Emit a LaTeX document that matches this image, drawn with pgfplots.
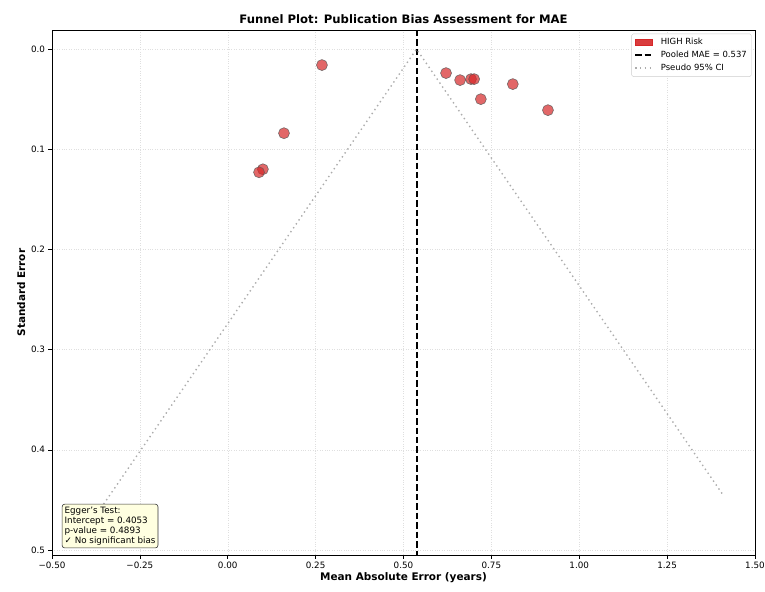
\documentclass[border=0pt]{standalone}
\usepackage{pgfplots}
\pgfplotsset{compat=1.18}
\usepackage{fontspec}
\setmainfont{DejaVu Sans}
\definecolor{hired}{RGB}{214,39,40}
\definecolor{boxfill}{RGB}{255,255,224}
\begin{document}
\begin{tikzpicture}
\path[use as bounding box] (0,0) rectangle (765bp,592bp);
\begin{axis}[
  at={(52bp,37bp)}, anchor=south west,
  scale only axis, width=703bp, height=525bp,
  xmin=-0.5, xmax=1.5, ymin=-0.019, ymax=0.505,
  y dir=reverse,
  xtick={-0.5,-0.25,0,0.25,0.5,0.75,1,1.25,1.5},
  xticklabels={−0.50,−0.25,0.00,0.25,0.50,0.75,1.00,1.25,1.50},
  ytick={0,0.1,0.2,0.3,0.4,0.5},
  yticklabels={0.0,0.1,0.2,0.3,0.4,0.5},
  tick align=outside, tick pos=left,
  major tick length=3.5bp,
  every tick/.style={black, line width=0.6pt},
  tick label style={font=\fontsize{8.8}{10}\selectfont},
  grid=major,
  grid style={dotted, gray!25, line width=0.5pt},
  axis line style={black, line width=0.8pt},
  xlabel={\bfseries Mean Absolute Error (years)},
  ylabel={\bfseries Standard Error},
  label style={font=\fontsize{10.5}{12}\selectfont},
  xlabel style={yshift=3bp},
  ylabel style={yshift=-1bp},
  title={\bfseries Funnel Plot: Publication Bias Assessment for MAE},
  title style={font=\fontsize{11.7}{13}\selectfont, yshift=-3bp},
  legend style={font=\fontsize{8.5}{10}\selectfont, draw=gray!40, rounded corners=1.5pt, fill=white, fill opacity=0.9, text opacity=1, row sep=1pt, inner sep=2.5pt, at={(0.995,0.993)}, anchor=north east},
  legend image code/.code={\draw[sharp corners,#1] (0cm,0cm) -- (0.6cm,0cm); \path (0.8cm,0cm);},
  legend cell align=left,
  clip=true,
]
\addlegendimage{legend image code/.code={\fill[hired, sharp corners] (0cm,-0.1cm) rectangle (0.6cm,0.1cm); \path (0.8cm,0cm);}}
\addlegendentry{HIGH Risk}
\addplot[black, line width=2pt, dash pattern=on 6.5pt off 3pt] coordinates {(0.537,-0.019) (0.537,0.505)};
\addlegendentry{Pooled MAE = 0.537}
\addplot[gray!65, line width=1.4pt, dash pattern=on 1.4pt off 3.4pt] coordinates {(-0.384,0.47) (0.537,0) (1.409,0.445)};
\addlegendentry{Pseudo 95\% CI}
\addplot[only marks, mark=*, mark size=5.5bp, mark options={fill=hired, fill opacity=0.7, draw=black!65, draw opacity=0.8, line width=0.6pt}, forget plot] coordinates {
(0.268,0.016) (0.160,0.084) (0.100,0.120) (0.089,0.123)
(0.621,0.024) (0.661,0.031) (0.692,0.030) (0.701,0.030)
(0.720,0.050) (0.811,0.035) (0.911,0.061)};
\node[anchor=south west, draw=black!80, fill=boxfill, rounded corners=2.5pt, line width=0.6pt, inner sep=2.5pt, align=left, font=\fontsize{8.8}{10.2}\selectfont] at (rel axis cs:0.014,0.013) {Egger's Test:\\Intercept = 0.4053\\p-value = 0.4893\\✓ No significant bias};
\end{axis}
\end{tikzpicture}
\end{document}
